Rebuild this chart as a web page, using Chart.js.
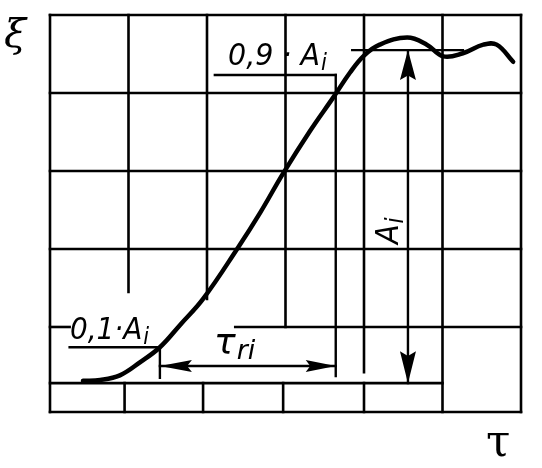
<!DOCTYPE html>
<html>
<head>
<meta charset="utf-8">
<script src="https://cdn.jsdelivr.net/npm/chart.js@4.4.0/dist/chart.umd.min.js"></script>
<style>
  html, body { margin: 0; padding: 0; background: #fff; }
</style>
</head>
<body>
<canvas id="chart" width="542" height="468"></canvas>
<script>
// step response, in grid cells (x: 0..6, y: 0..5)
const curveX = [0.42, 0.64, 0.89, 1.15, 1.40, 1.66, 1.95, 2.39, 2.68, 2.97, 3.31, 3.62, 3.82, 4.00, 4.20, 4.55, 4.80, 5.01, 5.26, 5.52, 5.69, 5.90];
const curveY = [0.31, 0.32, 0.38, 0.55, 0.74, 1.03, 1.36, 2.01, 2.47, 2.97, 3.51, 3.96, 4.26, 4.48, 4.62, 4.71, 4.62, 4.47, 4.51, 4.62, 4.62, 4.40];

// levels
const baseLevel = 0.28;   // start value
const steadyLevel = 4.55; // Ai top
const level01 = 0.74;     // 0,1·Ai
const level09 = 4.23;     // 0,9·Ai
const tauLeft = 1.40;
const tauRight = 3.64;
const tauArrowY = 0.50;
const ampX = 4.56;

// grid / frame segments [x1, y1, x2, y2]
const gridSegs = [
  [0, 5, 6, 5], [0, -0.09, 6, -0.09], [0, -0.09, 0, 5], [6, -0.09, 6, 5],
  [0, 4, 6, 4], [0, 3, 6, 3], [0, 2, 6, 2],
  [0, 1, 0.25, 1], [2.36, 1, 6, 1],
  [0, baseLevel, 5, baseLevel],
  [1, 5, 1, 1.45], [0.95, baseLevel, 0.95, -0.09],
  [2, 5, 2, 1.36], [1.95, baseLevel, 1.95, -0.09],
  [3, 5, 3, 1], [2.97, baseLevel, 2.97, -0.09],
  [4, 5, 4, 0.42], [4, baseLevel, 4, -0.09],
  [5, 5, 5, -0.09]
];
// dimension lines
const dimSegs = [
  [0.25, level01, tauLeft, level01],
  [2.1, level09, tauRight, level09], [tauRight, level09, tauRight, 0.37],
  [3.85, steadyLevel, 5.26, steadyLevel],
  [ampX, steadyLevel, ampX, baseLevel],
  [tauLeft, tauArrowY, tauRight, tauArrowY],
  [tauLeft, level01, tauLeft, 0.35]
];

const segDataset = (s, w) => ({
  data: [{x: s[0], y: s[1]}, {x: s[2], y: s[3]}],
  showLine: true, borderColor: '#000', borderWidth: w,
  pointRadius: 0, clip: false, borderCapStyle: 'square'
});

const datasets = [];
gridSegs.forEach(s => datasets.push(segDataset(s, 2.6)));
dimSegs.forEach(s => datasets.push(segDataset(s, 2.4)));
datasets.push({
  data: curveX.map((v, i) => ({x: v, y: curveY[i]})),
  showLine: true, borderColor: '#000', borderWidth: 4.5,
  pointRadius: 0, tension: 0.4, clip: false, borderCapStyle: 'round'
});

const drawing = {
  id: 'drawing',
  afterDatasetsDraw(chart) {
    const {ctx, scales: {x, y}} = chart;
    const px = v => x.getPixelForValue(v);
    const py = v => y.getPixelForValue(v);
    ctx.save();
    ctx.fillStyle = '#000';

    // arrow heads: tip, direction, length, half width
    const head = (tx, ty, dx, dy, len, hw) => {
      const bx = tx - dx * len, by = ty - dy * len;
      ctx.beginPath();
      ctx.moveTo(tx, ty);
      ctx.lineTo(bx - dy * hw, by + dx * hw);
      ctx.lineTo(bx + dx * len * 0.15, by + dy * len * 0.15);
      ctx.lineTo(bx + dy * hw, by - dx * hw);
      ctx.closePath();
      ctx.fill();
    };
    head(px(tauLeft), py(tauArrowY), -1, 0, 32, 6);
    head(px(tauRight), py(tauArrowY), 1, 0, 30, 6);
    head(px(ampX), py(steadyLevel), 0, -1, 30, 8);
    head(px(ampX), py(baseLevel), 0, 1, 32, 8);

    const letter = (main, sub, x0, y0, size, sx) => {
      ctx.save();
      ctx.translate(x0, y0);
      ctx.scale(sx, 1);
      ctx.font = `italic ${size}px "DejaVu Sans"`;
      ctx.textBaseline = 'alphabetic';
      ctx.fillText(main, 0, 0);
      const w = ctx.measureText(main).width;
      if (sub) {
        ctx.font = `italic ${size * 0.75}px "DejaVu Sans"`;
        ctx.fillText(sub, w + 1, size * 0.15);
      }
      ctx.restore();
    };
    letter('0,9 · A', 'i', 228, 65, 30, 0.95);
    letter('0,1·A', 'i', 70, 339, 31, 0.9);
    letter('τ', 'ri', 214, 354, 36, 1);

    ctx.save();
    ctx.translate(398, 244);
    ctx.rotate(-Math.PI / 2);
    letter('A', 'i', 0, 0, 32, 0.9);
    ctx.restore();

    ctx.font = 'italic 40px "DejaVu Serif"';
    ctx.fillText('ξ', 4, 47);
    ctx.font = '44px "DejaVu Serif"';
    ctx.fillText('τ', 486, 456);
    ctx.restore();
  }
};

new Chart(document.getElementById('chart'), {
  type: 'scatter',
  data: {datasets},
  options: {
    responsive: false,
    animation: false,
    layout: {padding: {left: 50, right: 21, top: 15, bottom: 56}},
    plugins: {legend: {display: false}, tooltip: {enabled: false}},
    scales: {
      x: {type: 'linear', min: 0, max: 6, display: false},
      y: {type: 'linear', min: -0.09, max: 5, display: false}
    }
  },
  plugins: [drawing]
});
</script>
</body>
</html>
